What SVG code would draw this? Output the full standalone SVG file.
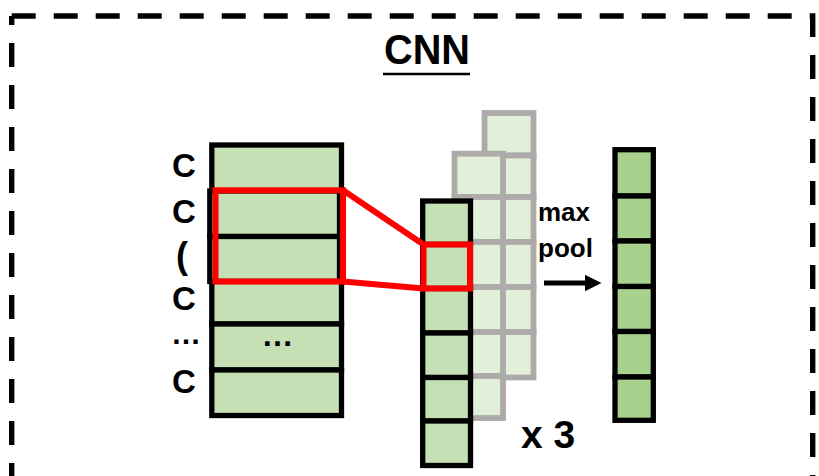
<svg xmlns="http://www.w3.org/2000/svg" width="819" height="476" viewBox="0 0 819 476">
<defs>
<style>
.t{font-family:"Liberation Sans",Arial,sans-serif;font-weight:bold;fill:#000}
.lc{fill:#C5E0B4;stroke:#000;stroke-width:5.3}
.gc{fill:#E2F0D9;stroke:#AEAAAA;stroke-width:5.8}
.fc{fill:#C5E0B4;stroke:#000;stroke-width:5.3}
.pc{fill:#A9D18E;stroke:#000;stroke-width:5.3}
.red{fill:none;stroke:#FF0000;stroke-width:6}
.border{fill:none;stroke:#000;stroke-width:5.4;stroke-dasharray:24 18}
</style>
<marker id="ah" viewBox="0 0 10 10" refX="0" refY="5" markerWidth="3.4" markerHeight="3.3" markerUnits="strokeWidth" orient="auto">
<path d="M0 0 L10 5 L0 10 Z" fill="#000"/>
</marker>
</defs>
<rect width="819" height="476" fill="#fff"/>
<g id="border">
<path class="border" d="M11.7 16 H812.7 V490"/>
<path class="border" d="M11.7 16 V490" stroke-dashoffset="15"/>
</g>
<g id="title">
<text class="t" x="384" y="63.5" font-size="42" textLength="86" lengthAdjust="spacingAndGlyphs">CNN</text>
<line x1="383" y1="74" x2="470" y2="74" stroke="#000" stroke-width="2.6"/>
</g>
<g id="filters-back">
<rect class="gc" x="484.5" y="113" width="49" height="42.5"/>
<rect class="gc" x="484.5" y="155.5" width="49" height="41.5"/>
<rect class="gc" x="484.5" y="197" width="49" height="45"/>
<rect class="gc" x="484.5" y="242" width="49" height="45"/>
<rect class="gc" x="484.5" y="287" width="49" height="45"/>
<rect class="gc" x="484.5" y="332" width="49" height="45.5"/>
</g>
<g id="filters-mid">
<rect class="gc" x="454.5" y="153.7" width="48.5" height="43.3"/>
<rect class="gc" x="454.5" y="197" width="48.5" height="45"/>
<rect class="gc" x="454.5" y="242" width="48.5" height="45"/>
<rect class="gc" x="454.5" y="287" width="48.5" height="45"/>
<rect class="gc" x="454.5" y="332" width="48.5" height="44"/>
<rect class="gc" x="454.5" y="376" width="48.5" height="42"/>
</g>
<g id="conv-output">
<rect class="fc" x="422.7" y="201" width="47.8" height="43.5"/>
<rect class="fc" x="422.7" y="244.5" width="47.8" height="44"/>
<rect class="fc" x="422.7" y="288.5" width="47.8" height="44.5"/>
<rect class="fc" x="422.7" y="333" width="47.8" height="44.5"/>
<rect class="fc" x="422.7" y="377.5" width="47.8" height="43.5"/>
<rect class="fc" x="422.7" y="421" width="47.8" height="44.5"/>
<rect class="red" x="423.5" y="244.5" width="46.5" height="44"/>
</g>
<g id="input-matrix">
<rect class="lc" x="211.8" y="145" width="129.7" height="46"/>
<rect class="lc" x="209.8" y="191" width="129.7" height="45.5"/>
<rect class="lc" x="209.8" y="236.5" width="129.7" height="45"/>
<rect class="lc" x="211.8" y="281.5" width="129.7" height="42.5"/>
<rect class="lc" x="211.8" y="324" width="129.7" height="46"/>
<rect class="lc" x="211.8" y="370" width="129.7" height="45.5"/>
<text class="t" x="277.5" y="346" font-size="32" text-anchor="middle">…</text>
<rect class="red" x="215.5" y="190.3" width="127.5" height="91.2"/>
</g>
<g id="row-labels">
<text class="t" x="184" y="176.5" font-size="33" text-anchor="middle">C</text>
<text class="t" x="184" y="223" font-size="33" text-anchor="middle">C</text>
<text class="t" x="182" y="268" font-size="36" text-anchor="middle">(</text>
<text class="t" x="184" y="310" font-size="33" text-anchor="middle">C</text>
<text class="t" x="186" y="344" font-size="30" text-anchor="middle">…</text>
<text class="t" x="184" y="393" font-size="33" text-anchor="middle">C</text>
</g>
<g id="pooled-output">
<rect class="pc" x="615" y="149.7" width="38.3" height="46.3"/>
<rect class="pc" x="615" y="196" width="38.3" height="45"/>
<rect class="pc" x="615" y="241" width="38.3" height="45.5"/>
<rect class="pc" x="615" y="286.5" width="38.3" height="45"/>
<rect class="pc" x="615" y="331.5" width="38.3" height="45.5"/>
<rect class="pc" x="615" y="377" width="38.3" height="43.3"/>
</g>
<g id="connectors">
<line class="red" x1="343" y1="190.3" x2="423.5" y2="244.5" stroke-width="5"/>
<line class="red" x1="343" y1="281.5" x2="423.5" y2="288.5" stroke-width="5"/>
<line x1="544" y1="283" x2="585" y2="283" stroke="#000" stroke-width="5" marker-end="url(#ah)"/>
</g>
<g id="labels">
<text class="t" x="538" y="221" font-size="26">max</text>
<text class="t" x="538" y="256.5" font-size="26">pool</text>
<text class="t" x="521" y="448" font-size="39">x 3</text>
</g>
</svg>
